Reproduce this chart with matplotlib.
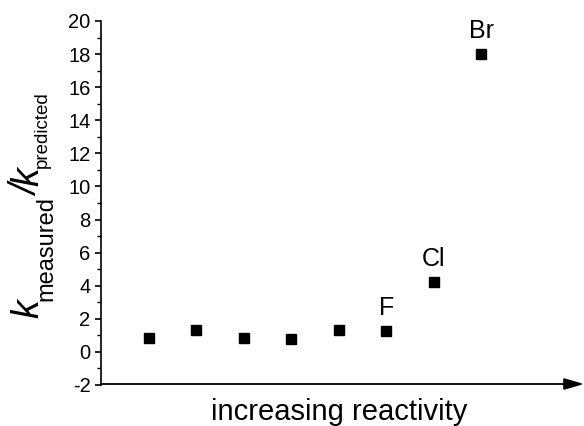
import matplotlib
matplotlib.use("Agg")
import matplotlib.pyplot as plt
from matplotlib.ticker import MultipleLocator
from matplotlib import font_manager

plt.rcParams['font.family'] = ['Liberation Sans', 'DejaVu Sans']
plt.rcParams['axes.unicode_minus'] = False

positions = [1, 2, 3, 4, 5, 6, 7, 8]
ratios = [0.85, 1.33, 0.85, 0.79, 1.33, 1.25, 4.22, 18.0]
labels = {6: "F", 7: "Cl", 8: "Br"}

W, H = 584, 426
fig = plt.figure(figsize=(W/100, H/100), dpi=100)
ax = fig.add_axes([101/W, 1-385/H, (562-101)/W, (385-21)/H])

ax.plot(positions, ratios, linestyle='none', marker='s', ms=6.5, color='black')
for x, y in zip(positions, ratios):
    if x in labels:
        ax.annotate(labels[x], (x, y), xytext=(0, 11.5), textcoords='offset points',
                    ha='center', va='baseline', fontsize=18)

ax.set_xlim(0, 9.7)
ax.set_ylim(-2, 20)
ax.yaxis.set_major_locator(MultipleLocator(2))
ax.yaxis.set_minor_locator(MultipleLocator(1))
ax.set_xticks([])
ax.spines['top'].set_visible(False)
ax.spines['right'].set_visible(False)
ax.spines['bottom'].set_visible(False)
ax.spines['left'].set_linewidth(1.2)
ax.tick_params(axis='y', which='major', length=4.5, width=1.2, labelsize=14.5, direction='out', pad=3)
ax.tick_params(axis='y', which='minor', length=2.8, width=1.0, direction='out')

# x label
fig.text(339/W, 6.5/H, 'increasing reactivity', fontsize=21, ha='center', va='baseline')

# y label built from pieces (rotated 90 deg, baseline vertical)
try:
    font_manager.findfont('Liberation Sans Narrow', fallback_to_default=False)
    narrow = 'Liberation Sans Narrow'
    pred_size = 16
except Exception:
    narrow = 'Liberation Sans'
    pred_size = 13.5

pieces = [
    ('k', 27, 'italic', 'Liberation Sans', 38),
    ('measured', 17, 'normal', 'Liberation Sans', 52),
    ('/', 27, 'italic', 'Liberation Sans', 38),
    ('k', 27, 'italic', 'Liberation Sans', 38),
    ('predicted', pred_size, 'normal', narrow, 47),
]
fig.canvas.draw()
renderer = fig.canvas.get_renderer()
ypos = 318.0
for txt, size, style, fam, xb in pieces:
    t = fig.text(xb/W, 1-ypos/H, txt, fontsize=size, style=style, family=fam,
                 rotation=90, rotation_mode='anchor', ha='left', va='baseline')
    ext = t.get_window_extent(renderer)
    ypos -= ext.height * 0.93 if style == 'italic' else ext.height

# x axis with arrow
ax.annotate('', xy=(1.0, 1-384/H), xycoords='figure fraction',
            xytext=(101/W, 1-384/H), textcoords='figure fraction',
            arrowprops=dict(arrowstyle='-|>,head_length=1.2,head_width=0.35', color='black', lw=1.3,
                            shrinkA=0, shrinkB=0))

fig.savefig('out.png', dpi=100)
